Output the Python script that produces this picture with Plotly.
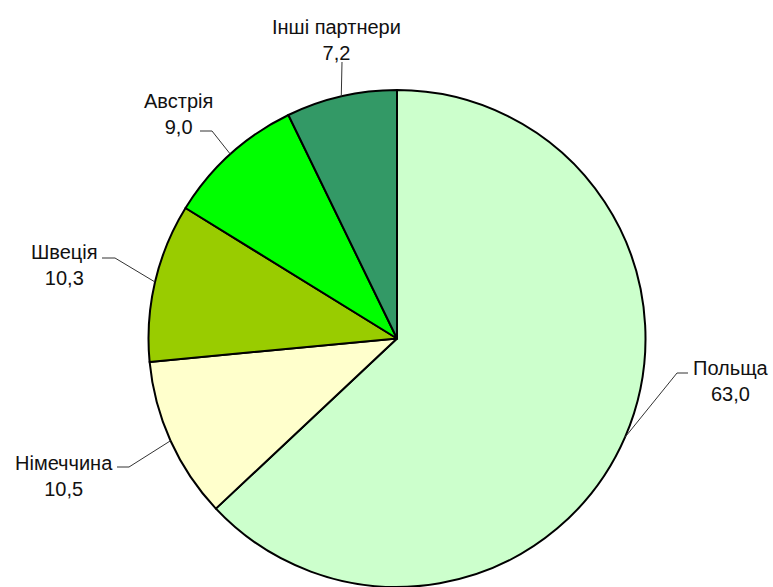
import math
import plotly.graph_objects as go

# ---- data ----
countries = ["Польща", "Німеччина", "Швеція", "Австрія", "Інші партнери"]
shares = [63.0, 10.5, 10.3, 9.0, 7.2]
value_labels = ["63,0", "10,5", "10,3", "9,0", "7,2"]
colors = ["#CCFFCC", "#FFFFCC", "#99CC00", "#00FF00", "#339966"]

W, H = 773, 587
CX, CY, R = 397.0, 338.5, 248.5   # pie centre / radius in pixels

# label layout (pixels): elbow of leader line, end of horizontal stub, text centre
label_layout = {
    "Польща":        dict(elbow=(677, 373), stub=(688, 373), text=(731, 381)),
    "Німеччина":     dict(elbow=(129, 467), stub=(117, 467), text=(64, 476)),
    "Швеція":        dict(elbow=(115, 258), stub=(102, 258), text=(64, 265)),
    "Австрія":       dict(elbow=(212, 131), stub=(200, 131), text=(178, 114)),
    "Інші партнери": dict(elbow=(342, 62), stub=(342, 62), text=(336, 40)),
}

def px(x, y):
    return x / W, 1 - y / H

fig = go.Figure(go.Pie(
    labels=countries,
    values=shares,
    sort=False,
    direction="clockwise",
    rotation=0,
    marker=dict(colors=colors, line=dict(color="#000000", width=2)),
    textinfo="none",
    hoverinfo="label+value",
    showlegend=False,
    domain=dict(x=[(CX - R) / W, (CX + R) / W], y=[0, 1 - (CY - R) / H]),
))

annotations = []
shapes = []
total = sum(shares)
cum = 0.0
for name, val, vlab in zip(countries, shares, value_labels):
    mid = (cum + val / 2) / total * 2 * math.pi
    cum += val
    ex = CX + R * math.sin(mid)
    ey = CY - R * math.cos(mid)
    lay = label_layout[name]
    p0 = px(ex, ey)
    p1 = px(*lay["elbow"])
    p2 = px(*lay["stub"])
    shapes.append(dict(
        type="path", xref="paper", yref="paper",
        path=f"M {p0[0]},{p0[1]} L {p1[0]},{p1[1]} L {p2[0]},{p2[1]}",
        line=dict(color="#333333", width=1),
    ))
    tx, ty = px(*lay["text"])
    annotations.append(dict(
        x=tx, y=ty, xref="paper", yref="paper",
        text=f"{name}<br>{vlab}", showarrow=False, align="center",
        xanchor="center", yanchor="middle",
        font=dict(family="Liberation Sans, Arial, sans-serif", size=20, color="#111111"),
    ))

fig.update_layout(
    width=W, height=H,
    margin=dict(l=0, r=0, t=0, b=0),
    paper_bgcolor="white",
    plot_bgcolor="white",
    annotations=annotations,
    shapes=shapes,
)

fig.write_html(
    "out.html",
    config={"displayModeBar": False},
    post_script="document.body.style.margin='0px';document.body.style.overflow='hidden';",
)
